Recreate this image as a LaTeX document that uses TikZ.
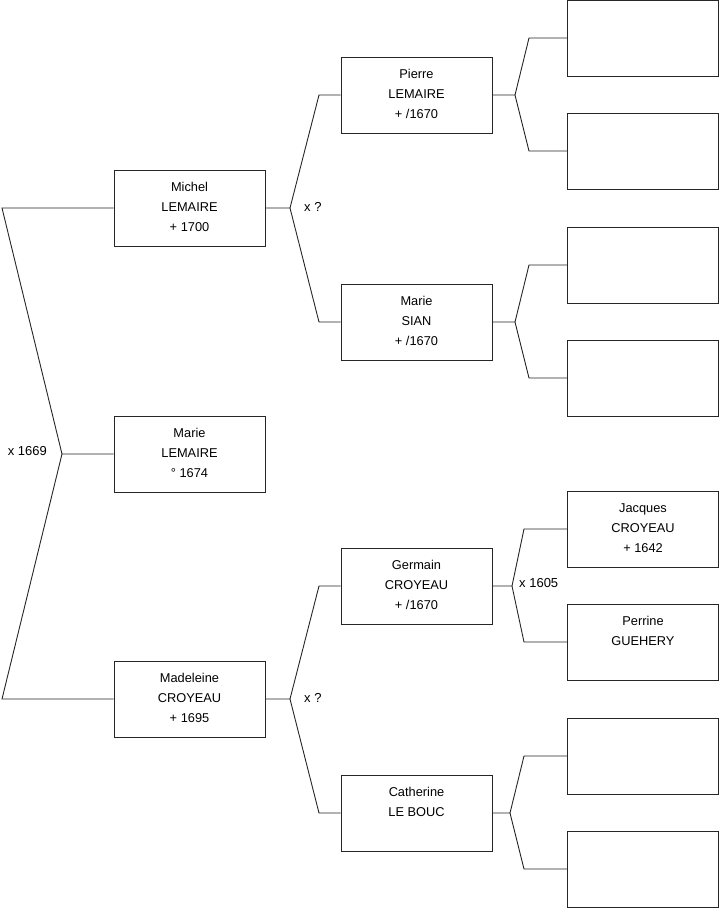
\documentclass[tikz,border=0pt]{standalone}
\usepackage{fontspec}
\setmainfont{Liberation Sans}
\begin{document}
\begin{tikzpicture}[x=1pt,y=-1pt,
  box/.style={draw=black!85, line width=0.9pt, minimum width=151pt, minimum height=76pt, inner sep=0pt},
  person/.style={box, label={[txt]center:{#1}}},
  txt/.style={align=center, inner sep=0pt, yshift=1pt, font=\fontsize{12.8}{19.8}\selectfont},
  link/.style={draw=black!85, line width=0.9pt},
  lbl/.style={font=\fontsize{13}{15}\selectfont, inner sep=0pt}]
\useasboundingbox (0,0) rectangle (719,908);
% column 1
\node[person={Michel\\LEMAIRE\\+ 1700}] (michel) at (189.5,208) {};
\node[person={Marie\\LEMAIRE\\° 1674}] (marie) at (189.5,454) {};
\node[person={Madeleine\\CROYEAU\\+ 1695}] (madeleine) at (189.5,699) {};
% column 2
\node[person={Pierre\\LEMAIRE\\+ /1670}] (pierre) at (416.5,95) {};
\node[person={Marie\\SIAN\\+ /1670}] (sian) at (416.5,322) {};
\node[person={Germain\\CROYEAU\\+ /1670}] (germain) at (416.5,586) {};
\node[person={Catherine\\LE BOUC\\\phantom{0}}] (catherine) at (416.5,813) {};
% column 3
\node[box] (p1) at (643,38) {};
\node[box] (p2) at (643,151) {};
\node[box] (p3) at (643,265) {};
\node[box] (p4) at (643,378) {};
\node[person={Jacques\\CROYEAU\\+ 1642}] (jacques) at (643,529) {};
\node[person={Perrine\\GUEHERY\\\phantom{0}}] (perrine) at (643,642) {};
\node[box] (p7) at (643,756) {};
\node[box] (p8) at (643,869) {};
% fork points
\coordinate (fa) at (62,454);
\coordinate (fat) at (2,208);
\coordinate (fab) at (2,699);
\coordinate (fb) at (290,208);
\coordinate (fbt) at (319,95);
\coordinate (fbb) at (319,322);
\coordinate (fc) at (290,699);
\coordinate (fct) at (319,586);
\coordinate (fcb) at (319,813);
\coordinate (fd) at (515,95);
\coordinate (fdt) at (529,38);
\coordinate (fdb) at (529,151);
\coordinate (fe) at (515,322);
\coordinate (fet) at (529,265);
\coordinate (feb) at (529,378);
\coordinate (ff) at (512,586);
\coordinate (fft) at (524,529);
\coordinate (ffb) at (524,642);
\coordinate (fg) at (510,813);
\coordinate (fgt) at (524,756);
\coordinate (fgb) at (524,869);
% connectors
\draw[link] (michel.west) -- (fat) -- (fa) -- (marie.west);
\draw[link] (fa) -- (fab) -- (madeleine.west);
\draw[link] (michel.east) -- (fb) -- (fbt) -- (pierre.west);
\draw[link] (fb) -- (fbb) -- (sian.west);
\draw[link] (madeleine.east) -- (fc) -- (fct) -- (germain.west);
\draw[link] (fc) -- (fcb) -- (catherine.west);
\draw[link] (pierre.east) -- (fd) -- (fdt) -- (p1.west);
\draw[link] (fd) -- (fdb) -- (p2.west);
\draw[link] (sian.east) -- (fe) -- (fet) -- (p3.west);
\draw[link] (fe) -- (feb) -- (p4.west);
\draw[link] (germain.east) -- (ff) -- (fft) -- (jacques.west);
\draw[link] (ff) -- (ffb) -- (perrine.west);
\draw[link] (catherine.east) -- (fg) -- (fgt) -- (p7.west);
\draw[link] (fg) -- (fgb) -- (p8.west);
% labels
\node[lbl, anchor=east] (l1) at (47,451) {x 1669};
\node[lbl, anchor=west] (l2) at (304,207) {x ?};
\node[lbl, anchor=west] (l3) at (304,698) {x ?};
\node[lbl, anchor=west] (l4) at (519,583) {x 1605};
\end{tikzpicture}
\end{document}
